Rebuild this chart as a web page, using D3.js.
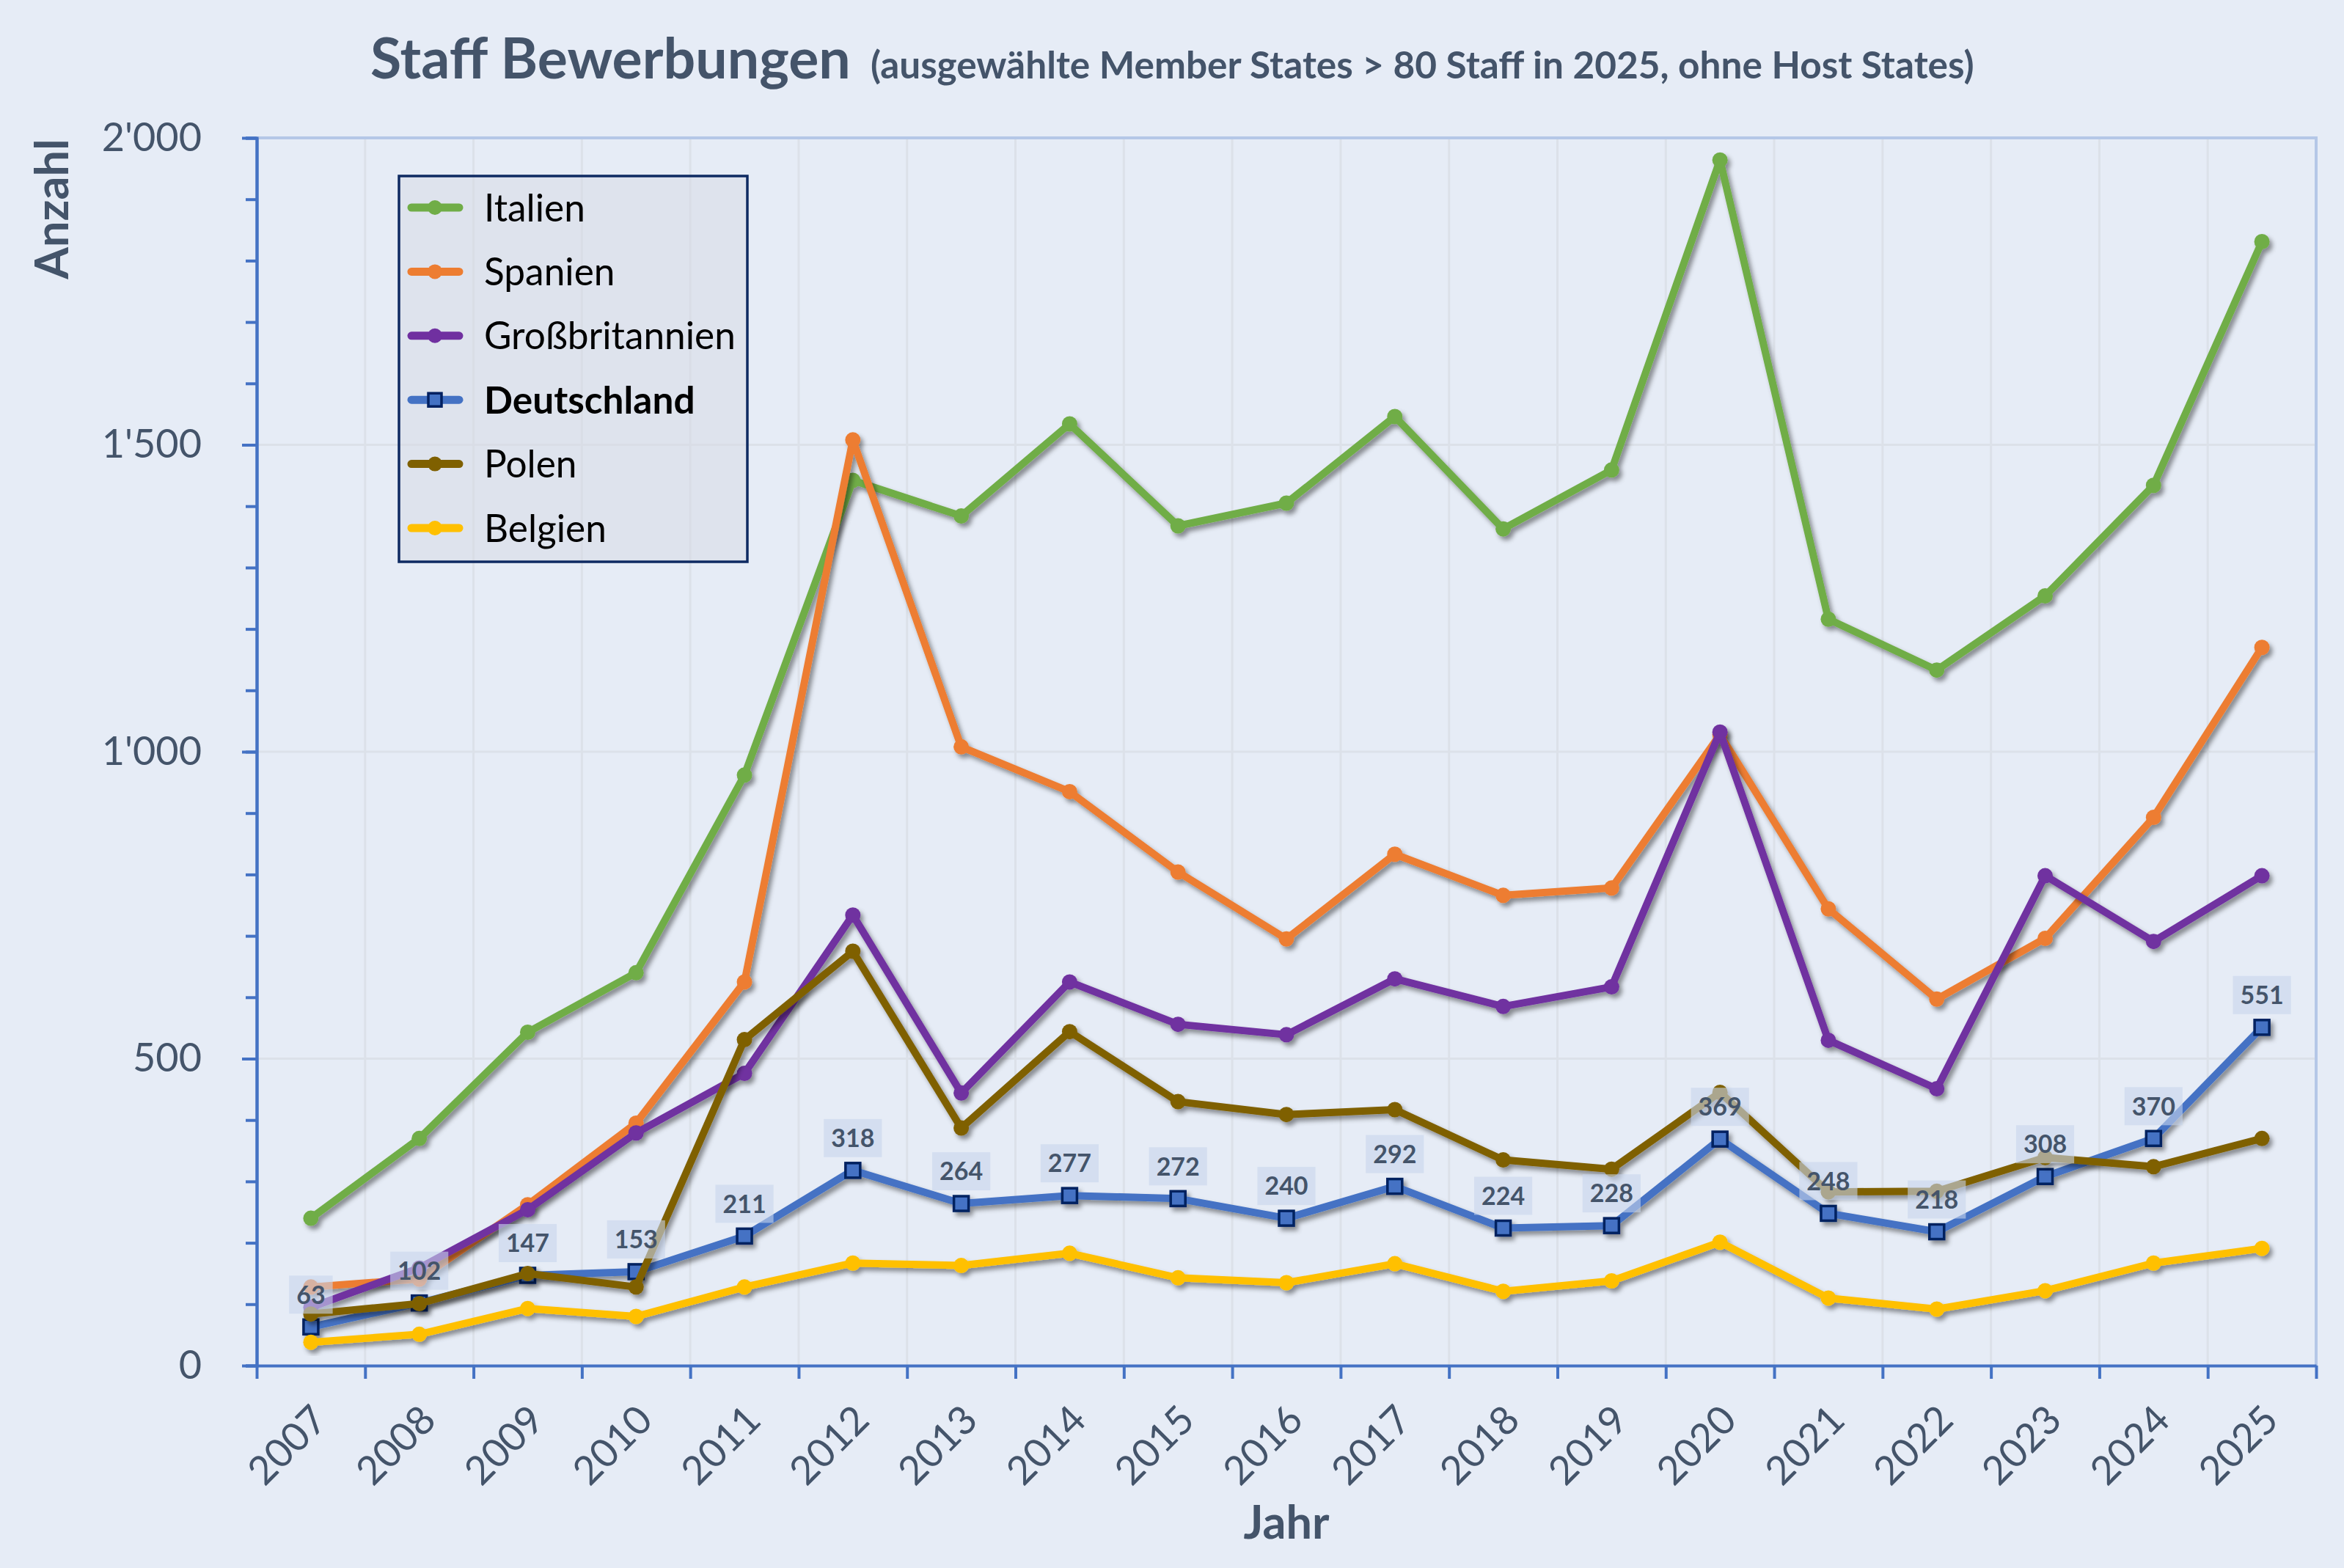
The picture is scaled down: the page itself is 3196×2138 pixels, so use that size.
<!DOCTYPE html>
<html>
<head>
<meta charset="utf-8">
<script src="https://cdn.jsdelivr.net/npm/d3@7"></script>
<style>
  body { margin: 0; background: #E6ECF6; }
  svg { display: block; }
</style>
</head>
<body>
<svg id="chart"></svg>
<script>
const years = ["2007", "2008", "2009", "2010", "2011", "2012", "2013", "2014", "2015", "2016",
    "2017", "2018", "2019", "2020", "2021", "2022", "2023", "2024", "2025"]

const italien = [240, 370, 543, 640, 962, 1442, 1384, 1534, 1368, 1405, 1546, 1363, 1459, 1964, 1216, 1133, 1254, 1434, 1831]
const spanien = [128, 141, 262, 395, 625, 1508, 1008, 935, 804, 695, 833, 766, 778, 1028, 744, 597, 696, 893, 1170]
const grossbritannien = [95, 159, 254, 379, 476, 734, 444, 625, 556, 539, 630, 585, 617, 1032, 530, 451, 798, 691, 798]
const deutschland = [63, 102, 147, 153, 211, 318, 264, 277, 272, 240, 292, 224, 228, 369, 248, 218, 308, 370, 551]
const polen = [84, 101, 150, 128, 531, 675, 387, 544, 430, 409, 417, 335, 320, 445, 283, 284, 339, 324, 370]
const belgien = [38, 51, 93, 80, 128, 167, 163, 183, 143, 135, 166, 121, 138, 201, 110, 92, 122, 167, 191]

const yTicks = [0, 500, 1000, 1500, 2000]
const yMinorTicks = [0, 100, 200, 300, 400, 500, 600, 700, 800, 900, 1000,
    1100, 1200, 1300, 1400, 1500, 1600, 1700, 1800, 1900, 2000]

const series = [
    { name: "Italien", values: italien, color: "#70AD47" },
    { name: "Spanien", values: spanien, color: "#ED7D31" },
    { name: "Großbritannien", values: grossbritannien, color: "#7030A0" },
    { name: "Deutschland", values: deutschland, color: "#4472C4", square: true },
    { name: "Polen", values: polen, color: "#7F6000" },
    { name: "Belgien", values: belgien, color: "#FFC000" },
]

const width = 3196
const height = 2138
const margin = { top: 188, right: 38, bottom: 276, left: 350 }
const font = "Lato, 'Noto Sans', sans-serif"
const textColor = "#44546A"
const axisColor = "#4472C4"

const svg = d3.select("#chart").attr("width", width).attr("height", height)
svg.append("rect").attr("width", width).attr("height", height).attr("fill", "#E6ECF6")

const x = d3.scaleBand().domain(years).range([margin.left, width - margin.right])
const xEdge = d3.scaleLinear().domain([0, years.length]).range([margin.left, width - margin.right])
const y = d3.scaleLinear().domain([0, 2000]).range([height - margin.bottom, margin.top])
const fmt = d3.formatLocale({ decimal: ".", thousands: "'", grouping: [3], currency: ["", ""] }).format(",")
const cx = i => x(years[i]) + x.bandwidth() / 2

// scale font so text fills given width
const fit = (text, w) => {
    const size = parseFloat(text.attr("font-size"))
    text.attr("font-size", size * w / text.node().getComputedTextLength())
}

// shadow
svg.append("defs").append("filter")
    .attr("id", "shadow")
    .attr("x", "-5%").attr("y", "-5%").attr("width", "110%").attr("height", "110%")
    .append("feDropShadow")
    .attr("dx", 4).attr("dy", 5).attr("stdDeviation", 3)
    .attr("flood-color", "#000").attr("flood-opacity", 0.42)

// grid
svg.append("g")
    .attr("stroke", "#DCE1E9")
    .attr("stroke-width", 3)
    .selectAll("line")
    .data(d3.range(1, years.length))
    .join("line")
    .attr("x1", d => xEdge(d)).attr("x2", d => xEdge(d))
    .attr("y1", y(0)).attr("y2", y(2000))

svg.append("g")
    .attr("stroke", "#DCE1E9")
    .attr("stroke-width", 3)
    .selectAll("line")
    .data([500, 1000, 1500])
    .join("line")
    .attr("x1", margin.left).attr("x2", width - margin.right)
    .attr("y1", d => y(d)).attr("y2", d => y(d))

// plot border top / right
svg.append("path")
    .attr("d", `M${margin.left},${y(2000)}H${width - margin.right}V${y(0)}`)
    .attr("fill", "none")
    .attr("stroke", "#B4C7E7")
    .attr("stroke-width", 4)

// y axis
const yMinor = svg.append("g")
    .attr("transform", `translate(${margin.left},0)`)
    .call(d3.axisLeft(y).tickValues(yMinorTicks).tickSize(15).tickFormat(""))
const yMajor = svg.append("g")
    .attr("transform", `translate(${margin.left},0)`)
    .call(d3.axisLeft(y).tickValues(yTicks).tickSize(20).tickSizeOuter(0).tickPadding(55).tickFormat(fmt))
yMajor.selectAll("text")
    .attr("font-family", font)
    .attr("font-size", 54)
    .attr("fill", textColor)

// x axis
const xTicks = svg.append("g")
    .attr("transform", `translate(0,${y(0)})`)
    .call(d3.axisBottom(xEdge).tickValues(d3.range(years.length + 1)).tickSize(18).tickSizeOuter(0).tickFormat(""))
const xLabels = svg.append("g")
    .attr("transform", `translate(0,${y(0)})`)
    .call(d3.axisBottom(x).tickSize(0))
xLabels.select(".domain").remove()
xLabels.selectAll("text")
    .attr("x", 0).attr("y", 0).attr("dy", "0.35em")
    .attr("text-anchor", "end")
    .attr("transform", "translate(12,64) rotate(-45)")
    .attr("font-family", font)
    .attr("font-size", 54)
    .attr("fill", textColor)

for (const g of [yMinor, yMajor, xTicks]) {
    g.selectAll(".domain, line").attr("stroke", axisColor).attr("stroke-width", 4)
}

// draw lines
const line = d3.line()
    .x((d, i) => cx(i))
    .y(d => y(d))

const groups = svg.append("g")
    .selectAll("g")
    .data(series)
    .join("g")
    .attr("filter", "url(#shadow)")

groups.append("path")
    .attr("d", d => line(d.values))
    .attr("fill", "none")
    .attr("stroke", d => d.color)
    .attr("stroke-width", 10)
    .attr("stroke-linejoin", "round")

groups.filter(d => !d.square)
    .selectAll("circle")
    .data(d => d.values.map(v => ({ v, color: d.color })))
    .join("circle")
    .attr("cx", (d, i) => cx(i))
    .attr("cy", d => y(d.v))
    .attr("r", 10.5)
    .attr("fill", d => d.color)

groups.filter(d => d.square)
    .selectAll("rect")
    .data(d => d.values.map(v => ({ v, color: d.color })))
    .join("rect")
    .attr("x", (d, i) => cx(i) - 10)
    .attr("y", d => y(d.v) - 10)
    .attr("width", 20)
    .attr("height", 20)
    .attr("fill", d => d.color)
    .attr("stroke", "#002060")
    .attr("stroke-width", 3.5)

// data labels Deutschland
const labels = svg.append("g")
    .selectAll("g")
    .data(deutschland)
    .join("g")
    .attr("transform", (d, i) => `translate(${cx(i)},${y(d) - 44})`)

labels.append("text")
    .attr("text-anchor", "middle")
    .attr("dy", "0.36em")
    .attr("font-family", font)
    .attr("font-weight", "bold")
    .attr("font-size", 34)
    .attr("fill", textColor)
    .text(d => d)

labels.insert("rect", "text")
    .each(function () {
        const w = this.parentNode.querySelector("text").getComputedTextLength() + 20
        d3.select(this).attr("x", -w / 2).attr("width", w)
    })
    .attr("y", -26)
    .attr("height", 52)
    .attr("fill", "#C8D6EC")
    .attr("fill-opacity", 0.6)

// legend
const legend = svg.append("g")
legend.append("rect")
    .attr("x", 544).attr("y", 240)
    .attr("width", 475).attr("height", 526)
    .attr("fill", "#D5DAE2")
    .attr("fill-opacity", 0.45)
    .attr("stroke", "#0E2A62")
    .attr("stroke-width", 3.5)

const item = legend.selectAll("g.item")
    .data(series)
    .join("g")
    .attr("class", "item")
    .attr("transform", (d, i) => `translate(0,${283 + i * 87.4})`)

item.append("line")
    .attr("x1", 561).attr("x2", 626)
    .attr("stroke", d => d.color)
    .attr("stroke-width", 11)
    .attr("stroke-linecap", "round")
item.filter(d => !d.square).append("circle")
    .attr("cx", 593).attr("r", 10)
    .attr("fill", d => d.color)
item.filter(d => d.square).append("rect")
    .attr("x", 584).attr("y", -9).attr("width", 18).attr("height", 18)
    .attr("fill", d => d.color)
    .attr("stroke", "#002060")
    .attr("stroke-width", 3.5)

const legendText = item.append("text")
    .attr("x", 660)
    .attr("dy", "0.36em")
    .attr("font-family", font)
    .attr("font-size", 50)
    .attr("font-weight", d => d.square ? "bold" : "normal")
    .attr("fill", "#000")
    .text(d => d.name)
fit(legendText.filter(d => d.name === "Großbritannien"), 343)
legendText.attr("font-size", legendText.filter(d => d.name === "Großbritannien").attr("font-size"))

// titles
const title = svg.append("text")
    .attr("x", 505).attr("y", 107)
    .attr("font-family", font)
    .attr("font-weight", "bold")
    .attr("font-size", 72)
    .attr("fill", textColor)
    .text("Staff Bewerbungen")
fit(title, 655)

const subtitle = svg.append("text")
    .attr("x", 1187).attr("y", 107)
    .attr("font-family", font)
    .attr("font-weight", "bold")
    .attr("font-size", 46)
    .attr("fill", textColor)
    .text("(ausgewählte Member States > 80 Staff in 2025, ohne Host States)")
fit(subtitle, 1505)

svg.append("text")
    .attr("transform", `translate(93,285) rotate(-90)`)
    .attr("text-anchor", "middle")
    .attr("font-family", font)
    .attr("font-weight", "bold")
    .attr("font-size", 63)
    .attr("fill", textColor)
    .text("Anzahl")

svg.append("text")
    .attr("x", (margin.left + width - margin.right) / 2)
    .attr("y", 2098)
    .attr("text-anchor", "middle")
    .attr("font-family", font)
    .attr("font-weight", "bold")
    .attr("font-size", 63)
    .attr("fill", textColor)
    .text("Jahr")
</script>
</body>
</html>
